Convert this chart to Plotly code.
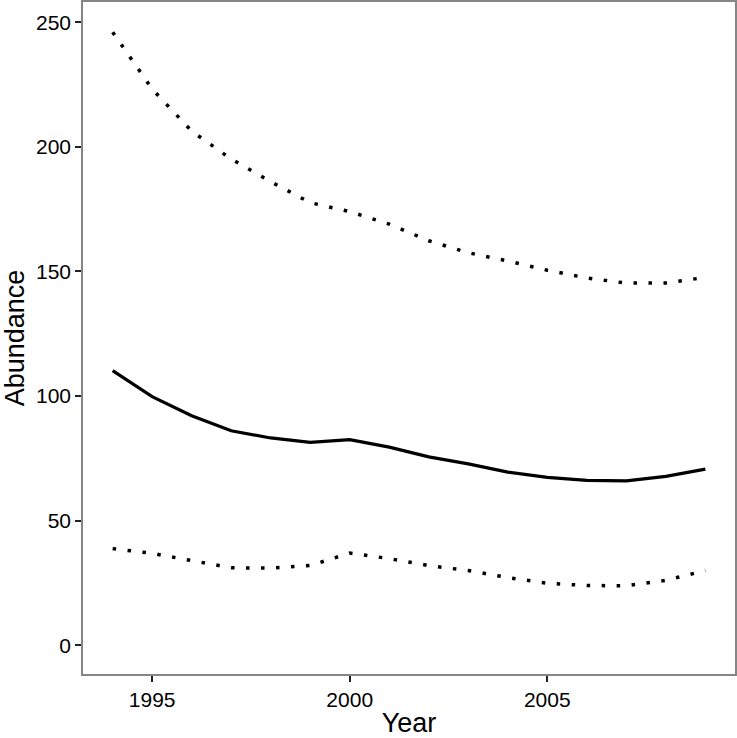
import plotly.graph_objects as go

years = list(range(1994, 2010))
upper = [246.0, 223.2, 206.3, 195.1, 186.0, 177.6, 174.0, 169.0, 162.3, 157.5, 154.2, 150.5, 147.4, 145.3, 145.4, 147.6]
mean = [110.2, 99.8, 92.1, 86.1, 83.2, 81.4, 82.5, 79.5, 75.6, 72.8, 69.5, 67.4, 66.2, 66.0, 67.8, 70.7]
lower = [38.8, 36.9, 34.0, 31.1, 31.0, 32.0, 37.0, 34.8, 32.0, 30.0, 27.2, 24.9, 24.0, 23.9, 26.1, 30.0]

x_ticks = [1995, 2000, 2005]
y_ticks = [0, 50, 100, 150, 200, 250]

fig = go.Figure()
fig.add_trace(go.Scatter(x=years, y=upper, mode="lines",
                         line=dict(color="black", width=3.5, dash="3.5px,11.5px")))
fig.add_trace(go.Scatter(x=years, y=mean, mode="lines",
                         line=dict(color="black", width=3.2)))
fig.add_trace(go.Scatter(x=years, y=lower, mode="lines",
                         line=dict(color="black", width=3.5, dash="3.5px,11.5px")))

font_family = "Liberation Sans, Arial, sans-serif"
fig.update_layout(
    width=737, height=738,
    margin=dict(l=83, r=2, t=2, b=64, autoexpand=False),
    paper_bgcolor="white", plot_bgcolor="white",
    showlegend=False,
    font=dict(family=font_family, color="black"),
)
fig.update_xaxes(
    range=[1993.25, 2009.75], tickvals=x_ticks, ticktext=[str(v) for v in x_ticks],
    showgrid=False, zeroline=False, automargin=False,
    showline=True, mirror=True, linecolor="#858585", linewidth=1.5,
    ticks="outside", ticklen=6, tickwidth=2, tickcolor="#222222",
    tickfont=dict(size=21, color="black"),
    title=dict(text="Year", font=dict(size=27, color="black"), standoff=6),
)
fig.update_yaxes(
    range=[-11.5, 258.1], tickvals=y_ticks, ticktext=[str(v) for v in y_ticks],
    showgrid=False, zeroline=False, automargin=False,
    showline=True, mirror=True, linecolor="#858585", linewidth=1.5,
    ticks="outside", ticklen=6, tickwidth=2, tickcolor="#222222",
    tickfont=dict(size=21, color="black"),
    title=dict(text="Abundance", font=dict(size=27, color="black"), standoff=8),
)

fig.write_html(
    "out.html",
    config={"displayModeBar": False},
    post_script="document.body.style.margin='0';document.body.style.overflow='hidden';",
)
